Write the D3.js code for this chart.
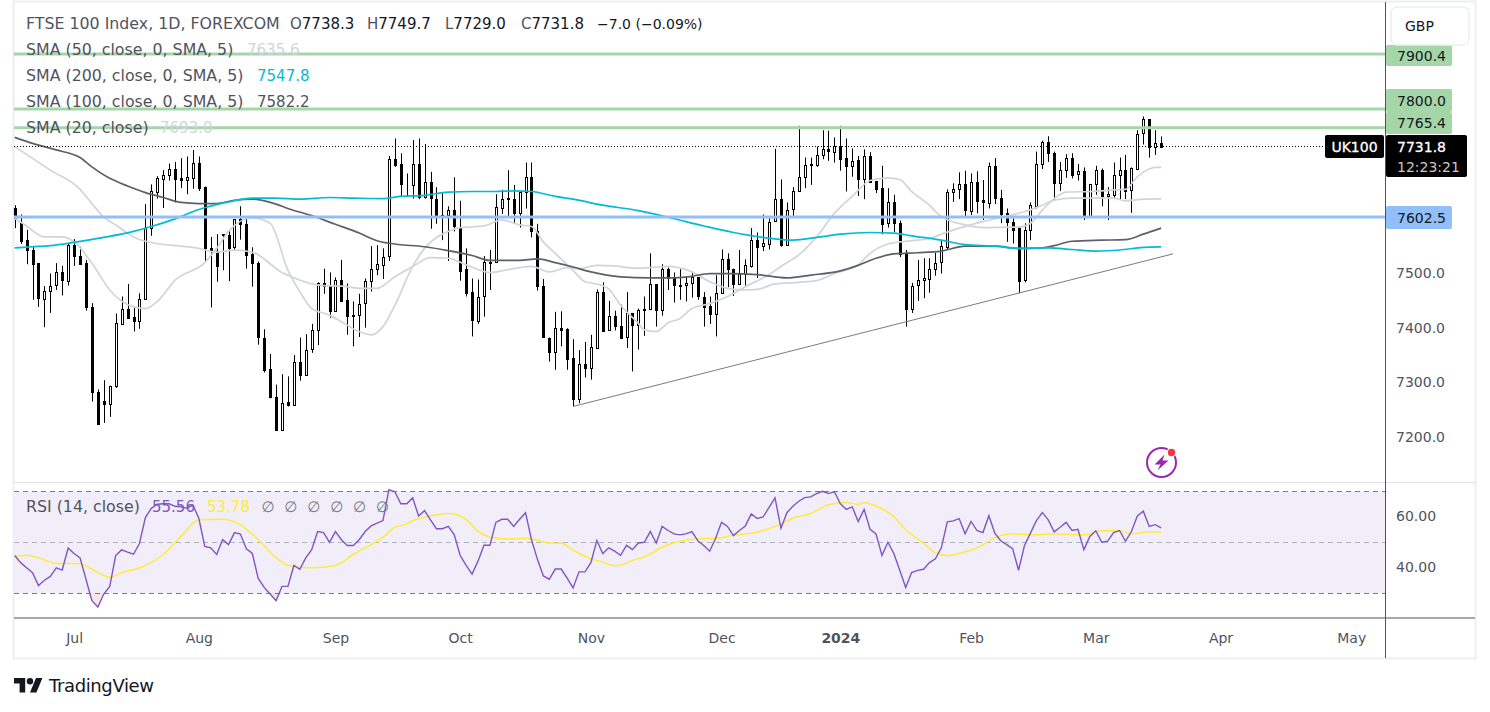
<!DOCTYPE html>
<html>
<head>
<meta charset="utf-8">
<script src="https://cdnjs.cloudflare.com/ajax/libs/d3/7.8.5/d3.min.js"></script>
<style>
  html, body { margin: 0; padding: 0; background: #fff; }
  svg { display: block; }
  text { font-family: "DejaVu Sans", sans-serif; }
</style>
</head>
<body>
<svg id="chart" width="1490" height="712"></svg>
<script>
// daily candles
var opens = [7618,7591,7560,7542,7518,7454,7468,7477,7501,7486,
  7551,7531,7518,7437,7282,7266,7261,7292,7407,7434,
  7419,7411,7452,7582,7649,7672,7680,7691,7673,7669,
  7675,7702,7657,7545,7540,7571,7570,7546,7598,7590,
  7535,7518,7382,7324,7273,7214,7264,7260,7338,7314,
  7360,7395,7481,7476,7431,7487,7450,7423,7423,7444,
  7485,7506,7516,7530,7708,7699,7662,7660,7699,7638,
  7666,7636,7606,7605,7615,7585,7507,7465,7414,7457,
  7520,7519,7620,7636,7636,7610,7647,7675,7577,7477,
  7382,7356,7399,7397,7344,7269,7333,7326,7364,7466,
  7395,7421,7403,7382,7426,7404,7433,7434,7480,7433,
  7508,7492,7478,7477,7481,7492,7457,7439,7424,7463,
  7525,7507,7479,7497,7513,7561,7548,7554,7594,7635,
  7552,7616,7649,7675,7698,7698,7715,7726,7722,7733,
  7710,7695,7706,7672,7714,7668,7655,7590,7629,7591,
  7536,7435,7477,7486,7490,7508,7519,7548,7647,7652,
  7662,7613,7666,7633,7629,7696,7638,7609,7594,7582,
  7486,7578,7623,7698,7739,7719,7665,7689,7711,7680,
  7686,7604,7662,7688,7640,7643,7679,7688,7651,7691,
  7755,7781,7730,7738.3];
var highs = [7624,7607,7579,7548,7518,7476,7499,7518,7513,7553,
  7562,7548,7524,7445,7287,7304,7294,7426,7457,7480,
  7438,7463,7626,7662,7677,7688,7700,7703,7710,7713,
  7725,7713,7658,7566,7571,7571,7579,7598,7622,7600,
  7547,7521,7397,7352,7296,7315,7311,7350,7382,7388,
  7407,7483,7508,7501,7492,7524,7481,7448,7462,7490,
  7549,7551,7545,7714,7746,7719,7682,7743,7746,7736,
  7685,7657,7646,7622,7675,7632,7545,7490,7488,7531,
  7542,7644,7652,7688,7661,7650,7702,7702,7590,7489,
  7382,7429,7430,7399,7379,7359,7374,7387,7470,7483,
  7449,7431,7442,7465,7427,7435,7457,7536,7480,7516,
  7510,7501,7507,7494,7501,7493,7465,7457,7496,7543,
  7536,7508,7542,7525,7582,7574,7607,7600,7727,7671,
  7629,7657,7769,7711,7711,7731,7761,7760,7748,7769,
  7746,7728,7714,7726,7721,7668,7696,7655,7643,7596,
  7542,7482,7524,7527,7527,7537,7559,7653,7664,7684,
  7687,7682,7686,7670,7702,7710,7652,7618,7600,7585,
  7591,7629,7722,7742,7750,7722,7703,7717,7719,7699,
  7693,7663,7696,7691,7657,7702,7711,7716,7693,7761,
  7786,7781,7761,7749.7];
var lows = [7582,7553,7516,7451,7438,7401,7427,7469,7459,7477,
  7513,7515,7431,7265,7223,7226,7237,7290,7405,7416,
  7393,7398,7452,7568,7636,7619,7669,7629,7655,7644,
  7654,7650,7521,7437,7484,7505,7485,7541,7561,7508,
  7475,7369,7318,7271,7213,7213,7256,7259,7303,7313,
  7354,7368,7462,7418,7429,7447,7387,7366,7383,7400,
  7466,7496,7489,7522,7694,7639,7639,7636,7635,7636,
  7581,7590,7560,7522,7576,7486,7457,7384,7407,7420,
  7469,7519,7608,7604,7590,7583,7618,7565,7468,7384,
  7338,7323,7366,7323,7256,7262,7309,7305,7364,7395,
  7395,7395,7379,7363,7320,7360,7385,7432,7402,7422,
  7469,7446,7451,7448,7455,7451,7402,7407,7384,7463,
  7474,7458,7479,7477,7510,7491,7540,7543,7594,7548,
  7552,7604,7649,7655,7661,7694,7708,7705,7702,7687,
  7649,7676,7641,7635,7666,7646,7571,7583,7575,7529,
  7402,7427,7449,7454,7464,7495,7499,7542,7630,7635,
  7603,7606,7609,7597,7618,7626,7591,7557,7554,7463,
  7483,7560,7618,7690,7703,7633,7650,7674,7673,7669,
  7597,7603,7643,7622,7597,7635,7635,7635,7610,7690,
  7735,7711,7716,7729];
var closes = [7600,7559,7541,7516,7454,7468,7477,7501,7486,7551,
  7530,7516,7437,7281,7223,7261,7293,7408,7434,7418,
  7411,7452,7582,7649,7674,7680,7691,7672,7669,7675,
  7702,7656,7545,7539,7512,7569,7546,7598,7588,7534,
  7518,7382,7323,7273,7213,7263,7259,7338,7314,7360,
  7395,7481,7475,7431,7487,7449,7420,7422,7444,7485,
  7507,7516,7530,7708,7697,7662,7662,7699,7638,7666,
  7636,7606,7605,7615,7585,7505,7464,7414,7457,7520,
  7519,7620,7636,7637,7610,7648,7675,7576,7477,7384,
  7356,7399,7396,7343,7269,7333,7325,7364,7466,7395,
  7421,7402,7381,7426,7404,7432,7434,7479,7433,7508,
  7491,7477,7477,7481,7492,7457,7439,7424,7463,7525,
  7506,7479,7498,7514,7561,7548,7554,7594,7635,7551,
  7616,7649,7675,7697,7699,7716,7726,7722,7733,7709,
  7695,7705,7672,7714,7667,7654,7590,7629,7590,7535,
  7434,7477,7487,7490,7508,7519,7549,7648,7653,7662,
  7614,7666,7632,7629,7696,7638,7608,7593,7580,7485,
  7578,7624,7699,7739,7719,7665,7689,7711,7680,7686,
  7604,7662,7688,7640,7644,7679,7688,7650,7692,7755,
  7781,7730,7737,7731.8];

// moving averages: bar number and value at the places they were read
var sma20Bars = [0,2,5,8,10,13,16,20,22,24,27,32,34,36,40,43,46,48,50,53,55,58,60,62,64,67,69,73,75,79,82,85,87,89,91,94,96,98,100,102,105,106,108,110,112,114,117,120,123,127,129,132,135,138,141,144,147,149,151,154,156,160,163,167,169,171,173,175,177,181,183,185,187,189,191,192,193];
var sma20 = [7600,7586,7566,7566,7557,7518,7469,7438,7435,7448,7487,7519,7545,7576,7601,7591,7505,7466,7435,7423,7411,7393,7387,7402,7441,7512,7545,7576,7583,7586,7597,7588,7585,7557,7536,7505,7484,7480,7471,7441,7408,7396,7393,7409,7417,7435,7444,7457,7475,7497,7512,7533,7566,7609,7640,7669,7674,7671,7649,7624,7603,7588,7583,7584,7584,7591,7615,7636,7648,7649,7650,7652,7653,7676,7690,7693,7693];
var sma50Bars = [0,6,11,13,15,17,20,22,31,34,37,40,45,48,50,52,55,58,61,64,67,70,73,76,80,83,87,90,93,95,98,101,104,107,110,114,117,120,123,125,128,132,135,138,142,144,147,150,154,156,159,163,167,170,173,175,178,182,185,187,190,193];
var sma50 = [7731,7688,7653,7627,7602,7588,7566,7558,7545,7538,7542,7538,7501,7487,7480,7477,7476,7472,7472,7493,7512,7528,7527,7515,7501,7506,7512,7502,7510,7508,7514,7513,7509,7510,7512,7502,7484,7472,7469,7470,7480,7483,7486,7499,7515,7536,7553,7558,7563,7571,7582,7594,7604,7612,7624,7633,7637,7637,7637,7632,7635,7635.6];
var sma100Bars = [0,3,7,11,13,16,19,22,25,28,31,34,37,40,44,46,50,54,58,61,64,69,73,77,80,85,88,91,94,97,102,107,110,114,117,120,125,130,134,139,142,145,148,152,156,160,165,169,173,175,178,183,187,190,193];
var sma100 = [7748,7737,7725,7711,7694,7673,7659,7647,7638,7629,7627,7627,7633,7635,7626,7618,7605,7589,7573,7559,7553,7548,7541,7532,7523,7523,7526,7519,7511,7502,7493,7491,7491,7494,7499,7499,7497,7491,7496,7504,7514,7527,7535,7537,7540,7549,7549,7545,7546,7550,7558,7560,7561,7571,7582.2];
var sma200Bars = [0,3,6,10,15,20,23,27,31,36,40,44,48,53,57,62,65,69,73,77,81,84,87,91,94,99,105,110,116,121,126,131,135,139,144,148,151,156,160,165,169,174,178,182,186,190,193];
var sma200 = [7546,7548,7550,7556,7565,7576,7585,7599,7616,7630,7637,7637,7635,7638,7637,7636,7640,7642,7648,7649,7649,7650,7649,7640,7635,7624,7614,7602,7586,7574,7565,7560,7565,7571,7574,7573,7568,7560,7552,7549,7545,7546,7543,7540,7542,7547,7547.8];

// horizontal levels
var greenLevels = [7900.4, 7800, 7765.4];
var greenLabels = ["7900.4", "7800.0", "7765.4"];
var blueLevel = 7602.5;
var lastClose = 7731.8;
var trendBars = [94, 195];
var trendPrices = [7256, 7535];

// RSI pane, one value per bar
var rsi = [44.7,41.9,39.9,38,32.9,35,36.5,39.9,39,47.6,
  45.5,43.8,35.4,27,24.5,29.6,32.6,44.7,46.9,46,
  45.2,49.4,59.6,63.2,64.8,65,65,64,63.8,63.2,
  64.5,59.3,48.3,47.7,45.1,50.9,49,53.7,53.1,47.3,
  45.5,35.7,32.2,29.6,27,32.6,32.6,40.8,39.3,43.8,
  47,54.1,53.7,49.9,54.1,50.9,48.6,48.6,50.9,54.1,
  56.3,57.4,58.4,70.5,69.7,65,65,67.3,60.2,62.3,
  58.7,55.2,55.2,56.1,52.8,44.7,40.8,37.4,42.5,48.7,
  48.7,57.7,58.9,58.9,56.1,58.9,61.5,50.9,43.2,36.7,
  35.4,39.4,39.4,35.8,32,38.3,38.3,41.9,50.6,45.5,
  47.7,46.4,44.8,48.7,47,49.6,49.9,54.1,49.6,56.1,
  54.5,53.2,52.8,53.2,54.1,50.5,48.6,46.4,51.5,57.7,
  56.1,52.5,54.5,56.3,61,59.2,59.8,63.6,67.3,55.4,
  61.5,64,66,67.4,67.7,69,69.9,69,69.7,65,
  62.8,63.8,58,62.8,55,53.2,44.7,49.9,45.5,38.9,
  32.2,38,38.9,39.3,41.9,43.4,47.7,57.9,58.3,59.2,
  53.2,58.1,54.5,53.7,60.3,53.5,50.5,49,47.4,38.9,
  48.6,53.5,58.4,61.5,58.7,54,55.8,57.7,54.5,55,
  47,52.2,54.4,49.9,50.3,53.7,54.5,50.3,54.1,60.2,
  62.1,56.1,56.8,55.56];
var rsiMaBars = [0,2,4,7,11,14,16,18,21,25,28,31,35,38,41,44,46,50,54,57,62,64,66,67,69,73,76,78,81,84,86,90,92,94,97,99,101,102,104,106,110,113,115,118,121,123,126,129,131,134,137,140,142,143,145,148,150,153,155,157,159,162,165,168,172,175,180,183,186,188,191,193];
var rsiMa = [44.2,44.8,43.8,41.6,41.5,38,36.2,38,39.8,45.1,52.2,58.7,58.9,56.7,50.9,43.8,40.8,39.9,40.8,45.1,51.9,55.7,57.1,58.4,59.7,61.2,58.9,54.1,51.6,51.2,51.6,49.6,49.5,46.8,43.4,42.1,40.7,41,42.8,44.2,49,50.7,51.3,51.4,52.6,53.1,54.5,57,59.3,61.2,64.6,65.5,64.8,65.4,64.1,59.9,54.8,49.6,45.8,44.7,45.5,47.7,51.6,53.2,52.8,53.2,52.8,54.4,54.5,53.2,54,53.78];
var rsiBands = [70, 50, 30];

// axes
var monthBars = [10, 31, 54, 75, 97, 119, 139, 161, 182, 203, 225];
var monthLabels = ["Jul", "Aug", "Sep", "Oct", "Nov", "Dec", "2024", "Feb", "Mar", "Apr", "May"];
var priceTicks = [7200, 7300, 7400, 7500];
var rsiTicks = [40, 60];

// legend
var title = "FTSE 100 Index, 1D, FOREXCOM";
var ohlcLetters = ["O", "H", "L", "C"];
var ohlcValues = ["7738.3", "7749.7", "7729.0", "7731.8"];
var changeText = "\u22127.0 (\u22120.09%)";
var smaNames = ["SMA (50, close, 0, SMA, 5)", "SMA (200, close, 0, SMA, 5)", "SMA (100, close, 0, SMA, 5)", "SMA (20, close)"];
var smaValues = ["7635.6", "7547.8", "7582.2", "7693.0"];

var GRID = "#e0e3eb", AXIS = "#50535e", TEXT = "#50535e";
var GREEN = "#a5d6a7", BLUE = "#90bff9", LIGHT = "#d1d4dc", DARK = "#5d606b", CYAN = "#00bcd4";
var PURPLE = "#7e57c2", YELLOW = "#ffeb3b";
var NAME_SIZE = 15.8, VALUE_SIZE = 15;

var svg = d3.select("#chart");

var x = d3.scaleLinear().domain([0, 225]).range([14.7, 1351.2]);
var y = d3.scaleLinear().domain([7200, 7900]).range([437.1, 54.2]);
var yRsi = d3.scaleLinear().domain([30, 70]).range([593, 491]);
var left = 14, axisX = 1385, frameR = 1475;

// frame around the chart
svg.append("rect").attr("x", 13.5).attr("y", 1.5).attr("width", frameR - 13).attr("height", 657)
  .attr("fill", "#fff").attr("stroke", "#eceef5").attr("stroke-width", 2);

// RSI background
svg.append("rect").attr("x", left).attr("width", axisX - left)
  .attr("y", yRsi(70)).attr("height", yRsi(30) - yRsi(70)).attr("fill", "#f1eef9");

var rsiRows = rsi.map(function (v, i) { return { i: i, v: v }; });
svg.append("path").datum(rsiRows)
  .attr("fill", "#fbe4e4")
  .attr("d", d3.area().x(function (d) { return x(d.i); })
    .y0(yRsi(30)).y1(function (d) { return yRsi(Math.min(d.v, 30)); }));

svg.selectAll("line.band").data(rsiBands).enter().append("line")
  .attr("class", "band")
  .attr("x1", left).attr("x2", axisX)
  .attr("y1", function (d) { return yRsi(d) + 0.5; })
  .attr("y2", function (d) { return yRsi(d) + 0.5; })
  .attr("stroke", function (d) { return d === 50 ? "#b2b5be" : "#787b86"; })
  .attr("stroke-dasharray", "5 4");

// candles: wicks first, then bodies so hollow ones stay clean
var bars = opens.map(function (o, i) { return { i: i, o: o, h: highs[i], l: lows[i], c: closes[i] }; });
function cx(d) { return Math.round(x(d.i)); }

var candles = svg.append("g");
candles.selectAll("line").data(bars).enter().append("line")
  .attr("x1", function (d) { return cx(d) + 0.5; })
  .attr("x2", function (d) { return cx(d) + 0.5; })
  .attr("y1", function (d) { return y(d.h); })
  .attr("y2", function (d) { return y(d.l); })
  .attr("stroke", "#000");
candles.selectAll("rect").data(bars).enter().append("rect")
  .attr("x", function (d) { return cx(d) - 0.5; })
  .attr("width", 2)
  .attr("y", function (d) { return Math.round(y(Math.max(d.o, d.c))) + 0.5; })
  .attr("height", function (d) { return Math.round(Math.abs(y(d.o) - y(d.c))); })
  .attr("fill", function (d) { return d.c >= d.o ? "#fff" : "#000"; })
  .attr("stroke", "#000");

// moving averages
function maLine(bars, vals, scale) {
  return d3.line().x(function (d, i) { return x(bars[i]); })
    .y(function (d) { return scale(d); })
    .curve(d3.curveMonotoneX)(vals);
}
var mas = [[sma50Bars, sma50, LIGHT], [sma20Bars, sma20, LIGHT], [sma100Bars, sma100, DARK], [sma200Bars, sma200, CYAN]];
svg.selectAll("path.ma").data(mas).enter().append("path")
  .attr("class", "ma")
  .attr("fill", "none")
  .attr("stroke", function (d) { return d[2]; })
  .attr("stroke-width", 1.7)
  .attr("d", function (d) { return maLine(d[0], d[1], y); });

// trend line
svg.append("line")
  .attr("x1", x(trendBars[0])).attr("x2", x(trendBars[1]))
  .attr("y1", y(trendPrices[0])).attr("y2", y(trendPrices[1]))
  .attr("stroke", "#787b86").attr("stroke-width", 1);

// last price dotted line
svg.append("line").attr("x1", left).attr("x2", 1325)
  .attr("y1", Math.round(y(lastClose)) + 0.5).attr("y2", Math.round(y(lastClose)) + 0.5)
  .attr("stroke", "#000").attr("stroke-dasharray", "1 2");

// horizontal levels
svg.selectAll("line.green").data(greenLevels).enter().append("line")
  .attr("class", "green")
  .attr("x1", left).attr("x2", axisX)
  .attr("y1", function (d) { return y(d); }).attr("y2", function (d) { return y(d); })
  .attr("stroke", GREEN).attr("stroke-width", 3);
svg.append("line").attr("x1", left).attr("x2", axisX)
  .attr("y1", y(blueLevel)).attr("y2", y(blueLevel))
  .attr("stroke", BLUE).attr("stroke-width", 3);

// RSI lines
svg.append("path").attr("fill", "none").attr("stroke", YELLOW).attr("stroke-width", 1.5)
  .attr("d", maLine(rsiMaBars, rsiMa, yRsi));
svg.append("path").datum(rsi).attr("fill", "none").attr("stroke", PURPLE).attr("stroke-width", 1.4)
  .attr("d", d3.line().x(function (d, i) { return x(i); }).y(function (d) { return yRsi(d); }));

// pane separators and axis lines
svg.append("line").attr("x1", left).attr("x2", frameR).attr("y1", 482.5).attr("y2", 482.5).attr("stroke", GRID);
svg.append("line").attr("x1", left).attr("x2", frameR).attr("y1", 618).attr("y2", 618).attr("stroke", AXIS);
svg.append("line").attr("x1", axisX + 0.5).attr("x2", axisX + 0.5).attr("y1", 2).attr("y2", 658).attr("stroke", AXIS);

// time axis
var xAxis = d3.axisBottom(x).tickValues(monthBars).tickSize(0).tickPadding(0)
  .tickFormat(function (d, i) { return monthLabels[i]; });
var gx = svg.append("g").attr("transform", "translate(0,643)").call(xAxis);
gx.select(".domain").remove();
gx.selectAll("text").attr("dy", 0).attr("y", 0).attr("font-size", 14).attr("fill", TEXT)
  .attr("font-weight", function (d, i) { return monthLabels[i] === "2024" ? 700 : 400; });

// price labels on the axis
var priceAxis = d3.axisRight(y).tickValues(priceTicks).tickSize(0).tickPadding(0)
  .tickFormat(function (d) { return d3.format(".1f")(d); });
var gy = svg.append("g").attr("transform", "translate(1396,0)").call(priceAxis);
gy.select(".domain").remove();
gy.selectAll("text").attr("font-size", 14).attr("fill", TEXT);

var rsiAxis = d3.axisRight(yRsi).tickValues(rsiTicks).tickSize(0).tickPadding(0)
  .tickFormat(function (d) { return d3.format(".2f")(d); });
var gr = svg.append("g").attr("transform", "translate(1396,0)").call(rsiAxis);
gr.select(".domain").remove();
gr.selectAll("text").attr("font-size", 14).attr("fill", TEXT);

function label(x0, y0, w, h, fill, txt, color) {
  svg.append("rect").attr("x", x0).attr("y", y0).attr("width", w).attr("height", h).attr("rx", 2).attr("fill", fill);
  svg.append("text").attr("x", x0 + 11).attr("y", y0 + h / 2 + 5).attr("font-size", 14).attr("fill", color).text(txt);
}
label(1386, 45, 66, 21, GREEN, greenLabels[0], "#131722");
label(1386, 89, 66, 23, GREEN, greenLabels[1], "#131722");
label(1386, 112, 66, 22, GREEN, greenLabels[2], "#131722");
label(1386, 206, 66, 23, BLUE, d3.format(".1f")(blueLevel), "#131722");

// last price and symbol tags
svg.append("rect").attr("x", 1386).attr("y", 135).attr("width", 81).attr("height", 42).attr("rx", 2).attr("fill", "#000");
svg.append("text").attr("x", 1397).attr("y", 152).attr("font-size", 14).attr("fill", "#fff").attr("stroke", "#fff").attr("stroke-width", 0.3).text(d3.format(".1f")(lastClose));
svg.append("text").attr("x", 1397).attr("y", 172).attr("font-size", 14).attr("fill", "#c8c8c8").text("12:23:21");
svg.append("rect").attr("x", 1325).attr("y", 135).attr("width", 59).attr("height", 23).attr("rx", 2).attr("fill", "#000");
svg.append("text").attr("x", 1354.5).attr("y", 152).attr("text-anchor", "middle").attr("font-size", 14).attr("fill", "#fff").attr("stroke", "#fff").attr("stroke-width", 0.3).text("UK100");

// currency button
svg.append("rect").attr("x", 1391).attr("y", 7).attr("width", 78).attr("height", 38).attr("rx", 6).attr("fill", "#fff").attr("stroke", "#eceef5").attr("stroke-width", 1.5);
svg.append("text").attr("x", 1405).attr("y", 31).attr("font-size", 14).attr("fill", "#131722").text("GBP");

// legend
var legendX = 26;
svg.append("text").attr("x", legendX).attr("y", 29).attr("font-size", NAME_SIZE).attr("fill", TEXT).text(title);
var ohlcX = [290, 367, 445, 521];
ohlcLetters.forEach(function (l, i) {
  var t = svg.append("text").attr("x", ohlcX[i]).attr("y", 29).attr("font-size", VALUE_SIZE).attr("fill", TEXT).text(l);
  t.append("tspan").attr("fill", "#131722").text(ohlcValues[i]);
});
svg.append("text").attr("x", 597).attr("y", 29).attr("font-size", 14).attr("fill", "#131722").text(changeText);

var smaY = [55, 81, 107, 133];
var smaValX = [247, 257, 257, 160];
var smaValColor = [LIGHT, CYAN, TEXT, LIGHT];
smaNames.forEach(function (n, i) {
  svg.append("text").attr("x", legendX).attr("y", smaY[i]).attr("font-size", NAME_SIZE).attr("fill", TEXT).text(n);
  svg.append("text").attr("x", smaValX[i]).attr("y", smaY[i]).attr("font-size", VALUE_SIZE).attr("fill", smaValColor[i]).text(smaValues[i]);
});

svg.append("text").attr("x", legendX).attr("y", 512).attr("font-size", NAME_SIZE).attr("fill", TEXT).text("RSI (14, close)");
svg.append("text").attr("x", 152).attr("y", 512).attr("font-size", VALUE_SIZE).attr("fill", PURPLE).text("55.56");
svg.append("text").attr("x", 207).attr("y", 512).attr("font-size", VALUE_SIZE).attr("fill", YELLOW).text("53.78");
d3.range(6).forEach(function (k) {
  svg.append("text").attr("x", 268 + k * 22.9).attr("y", 512).attr("text-anchor", "middle")
    .attr("font-size", VALUE_SIZE).attr("fill", "#787b86").text("\u2205");
});

// power hour icon
var icon = svg.append("g").attr("transform", "translate(1161.5,462.5)");
icon.append("circle").attr("r", 14.5).attr("fill", "none").attr("stroke", "#9c27b0").attr("stroke-width", 2);
icon.append("path").attr("d", "M3,-8 L-7,2 L-1,2 L-4,8 L7,-2 L1,-2 Z").attr("fill", "#9c27b0");
icon.append("circle").attr("cx", 10).attr("cy", -10).attr("r", 5).attr("fill", "#fff");
icon.append("circle").attr("cx", 10).attr("cy", -10).attr("r", 3.7).attr("fill", "#f23645");

// TradingView mark
var logo = svg.append("g").attr("transform", "translate(14,674.8) scale(0.8)");
logo.append("path").attr("d", "M14 22H7V11H0V4h14v18zM28 22h-8l7.5-18h8L28 22z").attr("fill", "#131722");
logo.append("circle").attr("cx", 20).attr("cy", 8).attr("r", 4).attr("fill", "#131722");
svg.append("text").attr("x", 49).attr("y", 692).attr("font-size", 18).attr("font-family", "Open Sans").attr("fill", "#131722").attr("textLength", 105).text("TradingView");
</script>
</body>
</html>
